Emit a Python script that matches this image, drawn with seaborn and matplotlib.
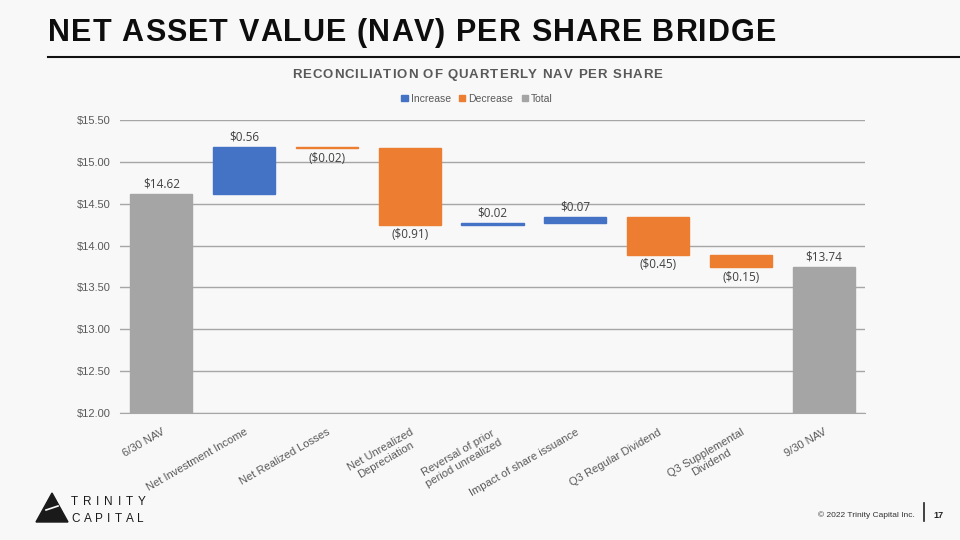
import numpy as np
import pandas as pd
import matplotlib.pyplot as plt
import seaborn as sns
from matplotlib.patches import Patch, Polygon

# Bridge data
categories = ["6/30 NAV", "Net Investment Income", "Net Realized Losses",
              "Net Unrealized\nDepreciation", "Reversal of prior\nperiod unrealized",
              "Impact of share issuance", "Q3 Regular Dividend",
              "Q3 Supplemental\nDividend", "9/30 NAV"]
changes = [14.62, 0.56, -0.02, -0.91, 0.02, 0.07, -0.45, -0.15, 13.74]
kinds = ["Total", "Increase", "Decrease", "Decrease", "Increase",
         "Increase", "Decrease", "Decrease", "Total"]
value_labels = ["$14.62", "$0.56", "($0.02)", "($0.91)", "$0.02",
                "$0.07", "($0.45)", "($0.15)", "$13.74"]

colors = {"Increase": "#4472C4", "Decrease": "#ED7D31", "Total": "#A5A5A5"}

# running totals -> bottom / height for each floating bar
bottoms, heights = [], []
level = 0.0
for v, k in zip(changes, kinds):
    if k == "Total":
        bottoms.append(0.0)
        heights.append(v)
        level = v
    else:
        start = level
        level = round(level + v, 2)
        bottoms.append(min(start, level))
        heights.append(abs(v))

df = pd.DataFrame({"cat": categories, "bottom": bottoms, "height": heights, "kind": kinds})

bg = "#f8f8f8"
W, H = 960, 540
fig = plt.figure(figsize=(9.6, 5.4), dpi=100, facecolor=bg)
renderer = fig.canvas.get_renderer()


def text_width(s, **kw):
    # width in px, trailing spaces kept by measuring against a marker
    t = fig.text(0, 0, s + "|", **kw)
    m = fig.text(0, 0, "|", **kw)
    w = t.get_window_extent(renderer).width - m.get_window_extent(renderer).width
    t.remove()
    m.remove()
    return w


def spaced_text(x_px, y_px, s, spacing, ha="left", **kw):
    # letter-spaced text, one glyph at a time
    widths = [text_width(ch, **kw) for ch in s]
    total = sum(widths) + spacing * (len(s) - 1)
    x = x_px - total / 2 if ha == "center" else x_px
    for ch, w in zip(s, widths):
        if ch != " ":
            fig.text(x / W, 1 - y_px / H, ch, va="center", **kw)
        x += w + spacing


ax = fig.add_axes([0.125, 0.235, 0.776, 0.543], facecolor=bg)

for k in ["Increase", "Decrease", "Total"]:
    sub = df[df["kind"] == k]
    sns.barplot(data=sub, x="cat", y="height", order=categories, bottom=sub["bottom"].values,
                color=colors[k], saturation=1, width=0.75, ax=ax, zorder=3,
                linewidth=1, edgecolor=colors[k])

ax.set_ylim(12.0, 15.5)
ticks = np.arange(12.0, 15.51, 0.5)
ax.set_yticks(ticks)
ax.set_yticklabels([f"${t:.2f}" for t in ticks], fontsize=8, color="#595959",
                   family="Liberation Sans")
ax.grid(axis="y", color="#a6a6a6", linewidth=1, zorder=0)
ax.set_axisbelow(True)
for s in ["top", "right", "left"]:
    ax.spines[s].set_visible(False)
ax.spines["bottom"].set_color("#a6a6a6")
ax.tick_params(length=0, pad=7)
ax.set_xlabel("")
ax.set_ylabel("")
ax.set_xticks(range(len(categories)))
ax.set_xticklabels(categories, rotation=30, ha="right", va="top", rotation_mode="anchor",
                   fontsize=8, color="#595959", family="Liberation Sans", multialignment="center")
ax.tick_params(axis="x", pad=10)

# value labels
for i, (b, h, k, lab) in enumerate(zip(bottoms, heights, kinds, value_labels)):
    if k == "Decrease":
        ax.text(i, b - 0.04, lab, ha="center", va="top", fontsize=8.5, color="#404040",
                family="Open Sans")
    else:
        ax.text(i, b + h + 0.04, lab, ha="center", va="bottom", fontsize=8.5, color="#404040",
                family="Open Sans")

# legend
handles = [Patch(color=colors[k], label=k) for k in ["Increase", "Decrease", "Total"]]
fig.legend(handles=handles, loc="center", bbox_to_anchor=(0.497, 0.817), ncol=3, frameon=False,
           handlelength=0.6, handleheight=0.6, handletextpad=0.3, columnspacing=0.8,
           prop={"family": "Liberation Sans", "size": 7.5}, labelcolor="#595959")

# slide title and decorations
spaced_text(48, 33, "NET ASSET VALUE (NAV) PER SHARE BRIDGE", 1.05, fontsize=22,
            fontweight="bold", family="Liberation Sans", color="#0d0d0d")
fig.add_artist(plt.Line2D([48 / W, 1.0], [1 - 57 / H, 1 - 57 / H], color="#111111", linewidth=1.5))
spaced_text(477, 75, "RECONCILIATION OF QUARTERLY NAV PER SHARE", 0.9, ha="center",
            fontsize=9.5, fontweight="bold", family="Liberation Sans", color="#595959")

# footer
fig.text(0.953, 0.046, "© 2022 Trinity Capital Inc.", fontsize=6, family="Liberation Sans",
         color="#333333", ha="right", va="center")
fig.add_artist(plt.Line2D([0.962, 0.962], [0.035, 0.068], color="#222222", linewidth=1.2))
fig.text(0.972, 0.046, "17", fontsize=6.5, fontweight="bold", family="Liberation Sans",
         color="#222222", va="center")

# logo
tri = Polygon([[36 / W, 1 - 522 / H], [68 / W, 1 - 522 / H], [52 / W, 1 - 493 / H]], closed=True,
              transform=fig.transFigure, color="#1a1a1a")
fig.add_artist(tri)
fig.add_artist(plt.Line2D([46 / W, 58 / W], [1 - 510 / H, 1 - 506 / H], color=bg, linewidth=1.2))
spaced_text(71, 502, "TRINITY", 4.8, fontsize=8.5, family="Liberation Sans", color="#1a1a1a")
spaced_text(71, 519, "CAPITAL", 4.0, fontsize=8.5, family="Liberation Sans", color="#1a1a1a")

fig.savefig("out.png", dpi=100, facecolor=bg)
